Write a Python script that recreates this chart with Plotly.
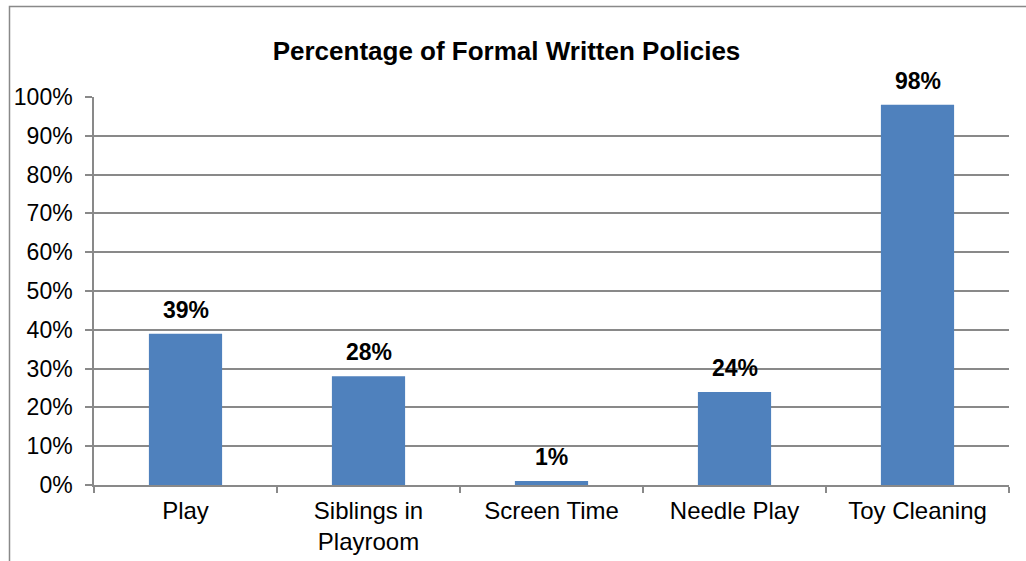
import plotly.graph_objects as go

categories = ["Play", "Siblings in<br>Playroom", "Screen Time", "Needle Play", "Toy Cleaning"]
values = [0.39, 0.28, 0.01, 0.24, 0.98]
labels = ["39%", "28%", "1%", "24%", "98%"]
title = "Percentage of Formal Written Policies"

FONT = "Liberation Sans, Arial, sans-serif"
GRID = "#898989"

fig = go.Figure()
fig.add_trace(go.Bar(x=categories, y=values, marker=dict(color="#4F81BD", line=dict(width=0)),
                     width=0.4, hoverinfo="skip"))

for c, v, t in zip(categories, values, labels):
    fig.add_annotation(x=c, y=v, text="<b>%s</b>" % t, showarrow=False, yanchor="bottom",
                       yshift=9, font=dict(family=FONT, size=23, color="black"))

W, H = 1026, 561
L, R, T, B = 94, 17, 97, 76
pw, ph = W - L - R, H - T - B
def px(x):
    return (x - L) / pw
def py(y):
    return (H - B - y) / ph

fig.add_shape(type="path", xref="paper", yref="paper",
              path="M %f,%f L %f,%f L %f,%f" % (px(9.5), py(570), px(9.5), py(6.5), px(1030), py(6.5)),
              line=dict(color=GRID, width=1.5))

fig.update_layout(
    width=W, height=H,
    margin=dict(l=L, r=R, t=T, b=B),
    paper_bgcolor="white", plot_bgcolor="white",
    showlegend=False,
    title=dict(text="<b>%s</b>" % title, x=506.5 / W, xanchor="center",
               y=1 - 51 / H, yanchor="middle",
               font=dict(family=FONT, size=26, color="black")),
    font=dict(family=FONT, size=23, color="black"),
    xaxis=dict(showline=True, linecolor=GRID, linewidth=1.5, ticks="outside", tickson="boundaries",
               ticklen=6, tickcolor=GRID, tickwidth=1.5, showgrid=False, ticklabelstandoff=3,
               automargin=False,
               tickfont=dict(family=FONT, size=24, color="black")),
    yaxis=dict(range=[0, 1], dtick=0.1, tickformat=".0%", showline=True, linecolor=GRID, linewidth=1.5,
               ticks="outside", ticklen=7, tickcolor=GRID, tickwidth=1.5, ticklabelstandoff=8,
               showgrid=True, gridcolor=GRID, gridwidth=1.5, zeroline=False, automargin=False,
               tickfont=dict(family=FONT, size=23, color="black")),
)

fig.write_html("out.html")
